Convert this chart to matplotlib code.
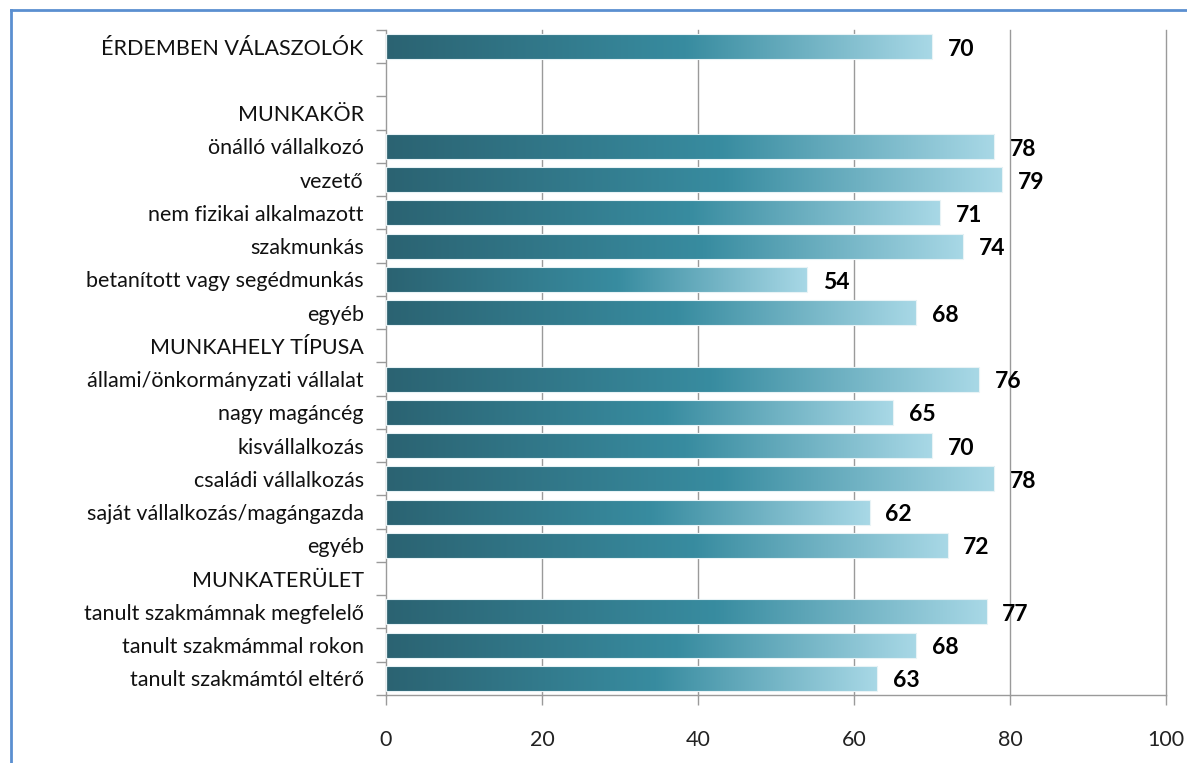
import numpy as np
import matplotlib.pyplot as plt
from matplotlib.colors import LinearSegmentedColormap
from matplotlib.patches import Rectangle

# Kategóriák felülről lefelé (üres sor = nincs sáv)
categories = [
    'ÉRDEMBEN VÁLASZOLÓK', '', 'MUNKAKÖR',
    'önálló vállalkozó', 'vezető', 'nem fizikai alkalmazott', 'szakmunkás',
    'betanított vagy segédmunkás', 'egyéb',
    'MUNKAHELY TÍPUSA',
    'állami/önkormányzati vállalat', 'nagy magáncég', 'kisvállalkozás',
    'családi vállalkozás', 'saját vállalkozás/magángazda', 'egyéb',
    'MUNKATERÜLET',
    'tanult szakmámnak megfelelő', 'tanult szakmámmal rokon', 'tanult szakmámtól eltérő',
]
values = [70, None, None, 78, 79, 71, 74, 54, 68, None,
          76, 65, 70, 78, 62, 72, None, 77, 68, 63]
xticks = [0, 20, 40, 60, 80, 100]

plt.rcParams['font.family'] = ['Lato', 'DejaVu Sans']

cmap = LinearSegmentedColormap.from_list(
    'teal', [(0.0, '#2b6372'), (0.55, '#388ca0'), (1.0, '#a8d8e6')])
grad = np.linspace(0, 1, 256).reshape(1, -1)

fig = plt.figure(figsize=(11.87, 7.63), dpi=100)
ax = fig.add_axes([0.3252, 0.0892, 0.6571, 0.8715])

n = len(categories)
ypos = np.arange(n)

h = 0.75
for y, v in zip(ypos, values):
    if v is None:
        continue
    ax.imshow(grad, cmap=cmap, aspect='auto', extent=(0, v, y + h / 2, y - h / 2),
              interpolation='bicubic', zorder=2)
    ax.add_patch(Rectangle((0, y - h / 2), v, h, fill=False, edgecolor='#e8f3f6',
                           linewidth=0.8, zorder=3))
    ax.text(v + 2, y + 0.08, str(v), va='center', ha='left', fontsize=16.5,
            fontweight='bold', color='black')
ax.set_xlim(0, 100)
ax.set_ylim(n - 0.5, -0.5)

ax.set_xticks(xticks)
ax.set_xticklabels([str(t) for t in xticks], fontsize=15.5, color='#222222')
for t in xticks[1:]:
    ax.axvline(t, color='#9a9a9a', linewidth=1.0, zorder=0, clip_on=False)

ax.set_yticks(ypos)
ax.set_yticklabels(categories, fontsize=15.5, color='#111111')
ax.set_yticks(np.arange(-0.5, n, 1.0), minor=True)
ax.tick_params(axis='y', which='major', length=0, pad=16)
ax.tick_params(axis='y', which='minor', length=7, color='#9a9a9a', width=1.0)
ax.tick_params(axis='x', length=7, color='#9a9a9a', width=1.0, pad=18)

for s in ['top', 'right']:
    ax.spines[s].set_visible(False)
for s in ['left', 'bottom']:
    ax.spines[s].set_color('#9a9a9a')
    ax.spines[s].set_linewidth(1.0)

# kék keret
fig.add_artist(plt.Line2D([11 / 1187, 11 / 1187], [0, 1 - 10 / 763],
                          transform=fig.transFigure, color='#5b8fd0', linewidth=2))
fig.add_artist(plt.Line2D([11 / 1187, 1], [1 - 10 / 763, 1 - 10 / 763],
                          transform=fig.transFigure, color='#5b8fd0', linewidth=2))

fig.savefig('out.png', dpi=100)
